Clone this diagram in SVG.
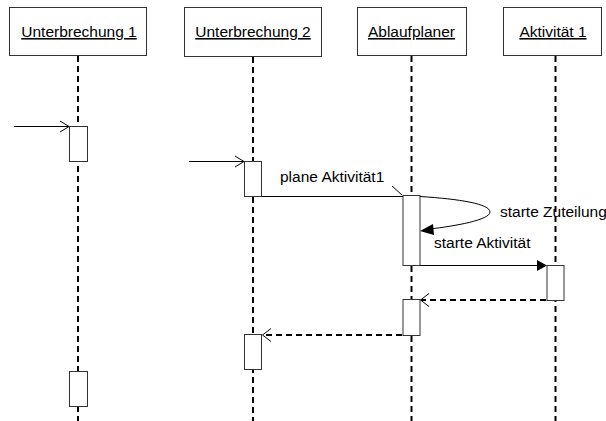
<svg xmlns="http://www.w3.org/2000/svg" width="606" height="421" viewBox="0 0 606 421">
  <style>
    .head { fill: #fff; stroke: #333; stroke-width: 1; }
    .name { font-family: "Liberation Sans", Arial, sans-serif; font-size: 15.5px; fill: #000; text-anchor: middle; text-decoration: underline; }
    .life { stroke: #000; stroke-width: 2; stroke-dasharray: 6 4; fill: none; }
    .act { fill: #fff; stroke: #333; stroke-width: 1; }
    .msg { stroke: #000; stroke-width: 1; fill: none; }
    .ret { stroke: #000; stroke-width: 2; stroke-dasharray: 6 4; fill: none; }
    .lbl { font-family: "Liberation Sans", Arial, sans-serif; font-size: 15.5px; fill: #000; }
  </style>

  <!-- lifelines -->
  <g id="lifelines">
    <line class="life" x1="78" y1="56" x2="78" y2="421"/>
    <line class="life" x1="253" y1="57" x2="253" y2="421"/>
    <line class="life" x1="411.5" y1="56" x2="411.5" y2="421"/>
    <line class="life" x1="555.5" y1="56" x2="555.5" y2="421"/>
  </g>

  <g id="unterbrechung1">
    <rect class="head" x="9.5" y="7.5" width="137" height="48"/>
    <text class="name" x="79" y="37">Unterbrechung 1</text>
    <rect class="act" x="69.5" y="126.5" width="18" height="35"/>
    <rect class="act" x="69.5" y="371.5" width="18" height="35"/>
  </g>

  <g id="unterbrechung2">
    <rect class="head" x="184.5" y="7.5" width="137" height="49"/>
    <text class="name" x="253" y="37">Unterbrechung 2</text>
    <rect class="act" x="244.5" y="161.5" width="17" height="35"/>
    <rect class="act" x="244.5" y="334.5" width="17" height="35"/>
  </g>

  <g id="ablaufplaner">
    <rect class="head" x="357.5" y="7.5" width="109" height="48"/>
    <text class="name" x="411.5" y="37">Ablaufplaner</text>
    <rect class="act" x="403" y="195.5" width="17" height="70"/>
    <rect class="act" x="403" y="299.5" width="17" height="36"/>
  </g>

  <g id="aktivitaet1">
    <rect class="head" x="503.5" y="7.5" width="98" height="48"/>
    <text class="name" x="553" y="37">Aktivität 1</text>
    <rect class="act" x="547" y="265.5" width="17" height="35"/>
  </g>

  <!-- messages -->
  <g id="connectors">
    <line class="msg" x1="14" y1="126.5" x2="69" y2="126.5"/>
    <polyline class="msg" points="60,121 69,126.5 60,132"/>

    <line class="msg" x1="189" y1="161.5" x2="244" y2="161.5"/>
    <polyline class="msg" points="235,156 244,161.5 235,167"/>

    <line class="msg" x1="262" y1="196.5" x2="403" y2="196.5"/>
    <line class="msg" x1="392" y1="186" x2="402" y2="195"/>
    <text class="lbl" x="280" y="182">plane Aktivität1</text>

    <path class="msg" d="M420,196.5 C460,199 490,204 490,212 C490,220 455,226 430,229"/>
    <polygon points="420,231 433,224 434,235" fill="#000"/>
    <text class="lbl" x="500" y="217">starte Zuteilung</text>

    <line class="msg" x1="420" y1="265.5" x2="538" y2="265.5"/>
    <polygon points="547,265.5 537,260 537,271" fill="#000"/>
    <text class="lbl" x="434" y="248">starte Aktivität</text>

    <line class="ret" x1="546" y1="300" x2="421" y2="300"/>
    <polyline class="msg" points="429,293.5 420.5,300 429,306.5"/>

    <line class="ret" x1="402" y1="335" x2="262" y2="335"/>
    <polyline class="msg" points="271,328.5 262.5,335 271,341.5"/>
  </g>
</svg>
